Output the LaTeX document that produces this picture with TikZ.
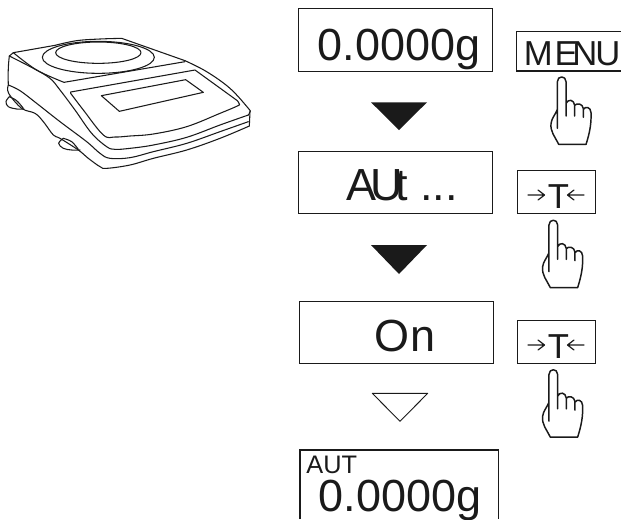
\documentclass[tikz,border=0pt]{standalone}
\usepackage{fontspec}
\setmainfont{Liberation Sans}
\definecolor{ink}{HTML}{1A1A1A}
\tikzset{
  x=0.75pt,y=-0.75pt,
  frame/.style={draw=ink,line width=0.8pt,inner sep=0pt,anchor=north west},
  disp/.style={font=\fontsize{33.75}{36}\selectfont,text=ink,inner sep=0pt,anchor=base},
  lbl/.style={text=ink,inner sep=0pt,anchor=base},
  art/.style={draw=ink,line width=0.8pt,line join=round,line cap=round,fill=none},
  hand/.pic={
    \begin{scope}[x=0.25pt,y=-0.25pt,shift={(-185,-170)}]
    \draw[art,line width=1.1pt] (172,268) -- (172,185)
      .. controls (172,166) and (198,166) .. (198,185)
      -- (198,288)
      (198,250) .. controls (204,236) and (222,238) .. (224,256)
      -- (224,288)
      (224,256) .. controls (230,248) and (248,250) .. (250,266)
      -- (250,292)
      (250,268) .. controls (256,258) and (272,260) .. (273,278)
      .. controls (274,310) and (270,335) .. (258,373)
      -- (176,373)
      .. controls (165,350) and (150,335) .. (153,310)
      .. controls (155,295) and (165,285) .. (172,268)
      -- (172,325);
    \end{scope}
  }
}
\begin{document}
\begin{tikzpicture}
\useasboundingbox (0,0) rectangle (621,519);
% balance
\begin{scope}[shift={(0,30)},x=0.25pt,y=-0.25pt,smooth,tension=0.6]
\draw[art] (28,78) -- (40,68) -- (165,46);
\draw[art] (28,78) .. controls (24,110) and (24,140) .. (25,165);
\draw[art] plot coordinates {(165,46) (230,32) (300,27) (365,25)} -- (555,92);
\draw[art] plot coordinates {(555,92) (620,125) (690,175) (745,235) (750,245) (745,255)};
\draw[art] (750,245) -- (748,288);
% top plate
\draw[art] (295,82) ellipse [x radius=168,y radius=48];
\draw[art] (295,68) ellipse [x radius=128,y radius=32];
% platform and panel
\draw[art] plot coordinates {(40,68) (110,120) (192,157)} -- (555,95);
\draw[art] plot coordinates {(212,190) (250,240) (310,315) (345,321) (390,318) (460,312) (560,290) (660,250) (712,228) (718,222) (712,212)} -- (585,120) -- (212,186) -- (212,190);
\draw[art] (304,197) -- (557,149) -- (610,187) -- (358,244) -- cycle;
% front lips
\draw[art] plot coordinates {(28,78) (100,115) (150,145) (180,180) (225,240) (275,310) (320,350) (345,358) (390,355) (460,345) (560,322) (660,285) (745,255)};
\draw[art] plot coordinates {(25,165) (60,182) (110,220) (180,275) (260,335) (300,370) (330,385) (390,383) (460,365) (560,340) (660,305) (745,275)};
\draw[art] plot coordinates {(25,165) (26,190) (65,235) (105,250) (130,275) (160,315) (180,325) (235,360) (265,385) (300,410) (320,415) (390,405) (460,385) (560,360) (660,325) (748,288)};
% feet
\draw[art] plot coordinates {(28,200) (18,215) (25,230) (50,237) (72,237)};
\draw[art] plot coordinates {(28,200) (50,212) (70,235)};
\draw[art] plot coordinates {(190,325) (176,340) (190,355) (215,360) (240,360)};
\draw[art] plot coordinates {(190,325) (215,335) (235,358)};
\end{scope}
% displays
\node[frame,minimum width=145.5pt,minimum height=46.9pt] (d1) at (298,8) {};
\node[disp] (t1) at (399,60) {0.0000g};
\node[frame,minimum width=145.5pt,minimum height=47pt] (d2) at (298,150.7) {};
\node[disp,anchor=base west] (t2) at (346.5,200) {A\kern-4.5pt U\kern-6pt t ...};
\node[frame,minimum width=145.5pt,minimum height=46.7pt] (d3) at (298.5,301) {};
\node[disp] (t3) at (405,351) {On};
% last display, open at the bottom
\coordinate (e1) at (300,519); \coordinate (e2) at (300,450);
\coordinate (e3) at (498.5,450); \coordinate (e4) at (498.5,519);
\draw[draw=ink,line width=0.8pt] (e1) -- (e2) -- (e3) -- (e4);
\node[lbl,font=\fontsize{19}{21}\selectfont] (t4a) at (331.7,473) {AUT};
\node[disp] (t4b) at (400,511) {0.0000g};
% triangles
\fill[ink] (371,102.3) -- (427,102.3) -- (399,130) -- cycle;
\fill[ink] (371,245) -- (427,245) -- (399,274) -- cycle;
\draw[art,line width=0.7pt] (372.3,393.3) -- (427.7,393.3) -- (400,421.3) -- cycle;
% buttons
\node[lbl,font=\fontsize{26}{28}\selectfont,anchor=base west] (tm) at (523.5,65) {M\kern1.5pt E\kern-4pt N\kern-1.5pt U};
\coordinate (m1) at (621,31.7); \coordinate (m2) at (516.7,31.7);
\coordinate (m3) at (516.7,71); \coordinate (m4) at (621,71);
\draw[draw=ink,line width=0.8pt] (m1) -- (m2) -- (m3) -- (m4);
\foreach \yy/\nm in {170/a,320/b}{
  \node[frame,minimum width=58.7pt,minimum height=32.2pt] (btn\nm) at (516.7,\yy) {};
  \node[lbl,font=\fontsize{26}{28}\selectfont] (T\nm) at (558.5,\yy+38) {T};
  \draw[art,line width=0.9pt] (528,\yy+25) -- (544,\yy+25) (538,\yy+20) -- (544.5,\yy+25) -- (538,\yy+30);
  \draw[art,line width=0.9pt] (584,\yy+25) -- (568,\yy+25) (574,\yy+20) -- (567.5,\yy+25) -- (574,\yy+30);
}
% hands
\pic at (561.7,76.7) {hand};
\pic at (553.3,220) {hand};
\pic at (553.3,369.5) {hand};
\end{tikzpicture}
\end{document}
